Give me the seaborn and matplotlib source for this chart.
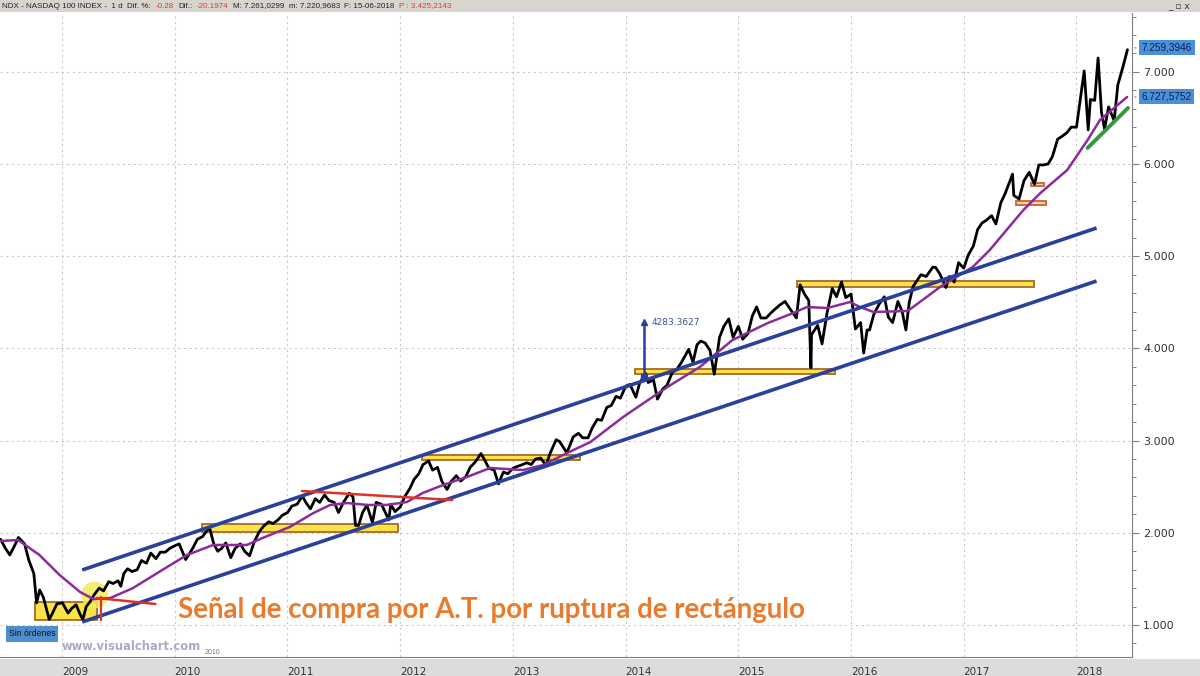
import numpy as np
import pandas as pd
import matplotlib
matplotlib.use("Agg")
import matplotlib.pyplot as plt
import seaborn as sns
from matplotlib.patches import Rectangle, Ellipse
from matplotlib.ticker import FuncFormatter, MultipleLocator

# ---------------- data ----------------
price_dates = [
 "2008-06-15","2008-07-01","2008-07-15","2008-08-01","2008-08-12","2008-09-01","2008-09-15","2008-10-01","2008-10-10","2008-10-20",
 "2008-11-01","2008-11-20","2008-12-01","2008-12-15","2009-01-02","2009-01-20","2009-02-01","2009-02-15","2009-03-01","2009-03-09",
 "2009-03-20","2009-04-01","2009-04-15","2009-05-01","2009-05-15","2009-06-01","2009-06-15","2009-07-01","2009-07-10","2009-07-20",
 "2009-08-01","2009-08-15","2009-09-01","2009-09-15","2009-10-01","2009-10-15","2009-11-01","2009-11-15","2009-12-01","2009-12-15",
 "2010-01-01","2010-01-15","2010-02-05","2010-02-15","2010-03-01","2010-03-15","2010-04-01","2010-04-23","2010-05-07","2010-05-20",
 "2010-06-01","2010-06-15","2010-07-01","2010-07-15","2010-08-01","2010-08-15","2010-08-31","2010-09-15","2010-10-01","2010-10-15",
 "2010-11-01","2010-11-15","2010-12-01","2010-12-15","2011-01-01","2011-01-15","2011-02-01","2011-02-18","2011-03-01","2011-03-16",
 "2011-04-01","2011-04-15","2011-05-01","2011-05-15","2011-06-01","2011-06-15","2011-07-01","2011-07-20","2011-08-01","2011-08-09",
 "2011-08-19","2011-09-01","2011-09-15","2011-10-03","2011-10-15","2011-11-01","2011-11-25","2011-12-01","2011-12-15","2012-01-01",
 "2012-01-15","2012-02-01","2012-02-15","2012-03-01","2012-03-15","2012-04-02","2012-04-15","2012-05-01","2012-05-15","2012-06-01",
 "2012-06-15","2012-07-01","2012-07-15","2012-08-01","2012-08-15","2012-09-01","2012-09-19","2012-10-01","2012-10-15","2012-11-01",
 "2012-11-15","2012-12-01","2012-12-15","2013-01-01","2013-01-15","2013-02-01","2013-02-15","2013-03-01","2013-03-15","2013-04-01",
 "2013-04-18","2013-05-01","2013-05-21","2013-06-01","2013-06-24","2013-07-01","2013-07-15","2013-08-01","2013-08-15","2013-09-01",
 "2013-09-15","2013-10-01","2013-10-15","2013-11-01","2013-11-15","2013-12-01","2013-12-15","2014-01-01","2014-01-15","2014-02-03",
 "2014-02-15","2014-03-06","2014-03-15","2014-04-01","2014-04-14","2014-05-01","2014-05-15","2014-06-01","2014-06-15","2014-07-01",
 "2014-07-24","2014-08-07","2014-08-20","2014-09-01","2014-09-15","2014-10-01","2014-10-15","2014-11-01","2014-11-15","2014-12-01",
 "2014-12-15","2015-01-01","2015-01-15","2015-02-01","2015-02-15","2015-03-01","2015-03-15","2015-04-01","2015-04-15","2015-05-01",
 "2015-05-15","2015-06-01","2015-06-15","2015-07-08","2015-07-20","2015-08-03","2015-08-17","2015-08-24","2015-08-26","2015-09-15",
 "2015-09-29","2015-10-15","2015-11-01","2015-11-15","2015-12-01","2015-12-15","2016-01-01","2016-01-15","2016-02-01","2016-02-11",
 "2016-02-22","2016-03-01","2016-03-15","2016-04-01","2016-04-18","2016-05-01","2016-05-15","2016-06-01","2016-06-15","2016-06-27",
 "2016-07-08","2016-07-20","2016-08-01","2016-08-15","2016-09-01","2016-09-22","2016-10-01","2016-10-15","2016-11-04","2016-11-15",
 "2016-12-01","2016-12-15","2017-01-01","2017-01-15","2017-02-01","2017-02-15","2017-03-01","2017-03-15","2017-04-01","2017-04-15",
 "2017-05-01","2017-05-15","2017-06-08","2017-06-12","2017-06-29","2017-07-15","2017-08-01","2017-08-18","2017-09-01","2017-09-15",
 "2017-10-01","2017-10-15","2017-11-01","2017-11-15","2017-12-01","2017-12-15","2018-01-01","2018-01-26","2018-02-08","2018-02-15",
 "2018-03-01","2018-03-12","2018-03-23","2018-04-02","2018-04-15","2018-05-03","2018-05-15","2018-06-01","2018-06-15",
]
price_values = [
 1930,1830,1760,1870,1950,1880,1700,1560,1240,1380,
 1300,1060,1130,1230,1240,1130,1180,1220,1110,1060,
 1200,1250,1330,1400,1370,1470,1450,1480,1420,1560,
 1610,1580,1600,1700,1670,1780,1720,1790,1790,1830,
 1860,1880,1710,1760,1840,1930,1960,2060,1880,1800,
 1830,1890,1730,1830,1880,1800,1750,1900,2010,2070,
 2120,2100,2140,2190,2220,2290,2310,2400,2330,2260,
 2370,2330,2410,2350,2330,2220,2330,2430,2390,2080,
 2080,2220,2300,2110,2330,2310,2140,2310,2230,2280,
 2390,2480,2580,2640,2740,2780,2680,2710,2560,2470,
 2560,2620,2560,2610,2710,2770,2860,2790,2700,2680,
 2530,2660,2640,2700,2720,2740,2760,2740,2800,2810,
 2730,2860,3010,2990,2870,2920,3040,3080,3030,3030,
 3140,3230,3220,3360,3380,3480,3460,3590,3610,3470,
 3620,3730,3630,3660,3450,3560,3600,3740,3770,3850,
 3990,3850,4040,4080,4060,3980,3720,4120,4240,4320,
 4120,4240,4100,4160,4350,4450,4330,4330,4380,4430,
 4470,4510,4440,4330,4690,4590,4520,3790,4150,4250,
 4050,4380,4650,4560,4720,4550,4590,4210,4280,3950,
 4200,4200,4370,4480,4560,4340,4280,4510,4400,4200,
 4500,4670,4730,4800,4780,4880,4880,4810,4660,4780,
 4720,4930,4870,5010,5110,5290,5360,5390,5440,5350,
 5580,5680,5890,5660,5620,5820,5910,5780,5990,5990,
 6000,6080,6270,6300,6340,6400,6400,7010,6370,6700,
 6690,7150,6560,6380,6620,6470,6860,7060,7240,
]

ma_dates = [
 "2008-06-14","2008-08-11","2008-10-19","2008-12-24","2009-02-28","2009-04-13","2009-06-06","2009-08-18","2009-12-05","2010-02-09",
 "2010-05-05","2010-08-22","2010-10-12","2011-01-08","2011-03-26","2011-05-19","2011-07-13","2011-09-17","2011-11-18","2012-01-23",
 "2012-03-14","2012-05-19","2012-08-04","2012-10-19","2013-02-03","2013-04-09","2013-06-25","2013-09-09","2013-12-24","2014-01-26",
 "2014-05-16","2014-08-29","2014-12-13","2015-04-06","2015-06-28","2015-08-11","2015-10-16","2015-12-28","2016-01-30","2016-03-14",
 "2016-07-01","2016-07-16","2016-10-16","2017-01-30","2017-03-26","2017-07-13","2017-09-06","2017-12-02","2018-02-06","2018-03-18",
 "2018-06-14",
]
ma_values = [
 1911,1922,1760,1542,1358,1280,1293,1400,1625,1759,
 1868,1868,1944,2063,2215,2302,2323,2302,2302,2334,
 2432,2518,2605,2703,2681,2735,2865,2985,3256,3332,
 3581,3798,4091,4275,4384,4449,4438,4503,4449,4395,
 4406,4438,4666,4883,5067,5501,5685,5935,6260,6477,
 6727,
]

# horizontal zones (start, end, low, high)
zone_start = ["2008-10-05", "2010-03-29", "2012-03-11", "2014-01-30", "2015-07-09"]
zone_end   = ["2009-04-23", "2011-12-24", "2013-08-07", "2015-11-10", "2017-08-18"]
zone_low   = [1054, 2009, 2790, 3722, 4666]
zone_high  = [1249, 2095, 2844, 3777, 4731]

small_start = ["2017-06-20", "2017-08-07"]
small_end   = ["2017-09-24", "2017-09-17"]
small_low   = [5555, 5761]
small_high  = [5599, 5794]

channel_dates = ["2009-03-07", "2018-03-07"]
channel_upper = [1597, 5306]
channel_lower = [1033, 4731]

red1_dates = ["2009-04-23", "2009-10-30"]
red1_values = [1293, 1228]
red1v_date = "2009-05-08"
red1v_values = [1304, 1054]
red2_dates = ["2011-02-17", "2012-06-18"]
red2_values = [2453, 2356]

green_dates = ["2018-02-06", "2018-06-17"]
green_values = [6174, 6608]

measure_date = "2014-03-03"
measure_values = [3690, 4283.3627]

circle_date = "2009-04-16"
circle_value = 1325

ytick_values = [1000, 2000, 3000, 4000, 5000, 6000, 7000]
year_ticks = list(range(2009, 2019))
last_price_label = "7.259,3946"
last_price = 7259.3946
last_ma_label = "6.727,5752"
last_ma = 6727.5752

header_parts = [
    ("NDX - NASDAQ 100 INDEX -  1 d", "#222222"),
    ("Dif. %:", "#222222"),
    ("-0.28", "#d04040"),
    ("Dif.:", "#222222"),
    ("-20.1974", "#d04040"),
    ("M: 7.261,0299", "#222222"),
    ("m: 7.220,9683", "#222222"),
    ("F: 15-06-2018", "#222222"),
    ("P : 3.425,2143", "#d04040"),
]


def dec_year(s):
    d = pd.to_datetime(pd.Series(s) if isinstance(s, list) else pd.Series([s]))
    days = np.where(d.dt.is_leap_year, 366.0, 365.0)
    out = d.dt.year + (d.dt.dayofyear - 0.5) / days
    return out.values if isinstance(s, list) else float(out.values[0])


price_df = pd.DataFrame({"t": dec_year(price_dates), "v": price_values})
ma_df = pd.DataFrame({"t": dec_year(ma_dates), "v": ma_values})

# ---------------- figure ----------------
sns.set_style("white")
plt.rcParams["font.family"] = ["DejaVu Sans"]
W, H = 1200, 676
fig = plt.figure(figsize=(12, 6.76), dpi=100)
fig.patch.set_facecolor("white")

ax_left, ax_right, ax_top, ax_bot = 0, 1132, 13, 657
ax = fig.add_axes([ax_left / W, (H - ax_bot) / H, (ax_right - ax_left) / W, (ax_bot - ax_top) / H])
ax.set_facecolor("white")

XMIN, XMAX = 2008.450, 2018.494
YMIN, YMAX = 653, 7638
ax.set_xlim(XMIN, XMAX)
ax.set_ylim(YMIN, YMAX)

# grid
for yv in ytick_values:
    ax.axhline(yv, color="#c9c9c9", lw=0.8, ls=(0, (2, 3)), zorder=0)
for xv in year_ticks:
    ax.axvline(xv, color="#c9c9c9", lw=0.8, ls=(0, (2, 3)), zorder=0)

# yellow zones
for s, e, lo, hi in zip(dec_year(zone_start), dec_year(zone_end), zone_low, zone_high):
    ax.add_patch(Rectangle((s, lo), e - s, hi - lo, facecolor="#f8e44a",
                           edgecolor="#a8682c", lw=1.3, zorder=2))
for s, e, lo, hi in zip(dec_year(small_start), dec_year(small_end), small_low, small_high):
    ax.add_patch(Rectangle((s, lo), e - s, hi - lo, facecolor="#f4d3b6",
                           edgecolor="#c8652c", lw=1.3, zorder=2))

# yellow circle
ax.add_patch(Ellipse((dec_year(circle_date), circle_value), 0.24, 290,
                     facecolor="#f2ec5a", edgecolor="none", alpha=0.85, zorder=2))

# price and moving average
sns.lineplot(data=price_df, x="t", y="v", ax=ax, color="black", lw=2.0,
             estimator=None, sort=False, zorder=3)
sns.lineplot(data=ma_df, x="t", y="v", ax=ax, color="#8b2c9a", lw=1.8,
             estimator=None, sort=False, zorder=4)

# channel lines
cd = dec_year(channel_dates)
ax.plot(cd, channel_upper, color="#2b3f9c", lw=2.6, solid_capstyle="butt", zorder=5)
ax.plot(cd, channel_lower, color="#2b3f9c", lw=2.6, solid_capstyle="butt", zorder=5)

# red lines
ax.plot(dec_year(red1_dates), red1_values, color="#e03028", lw=1.8, zorder=5)
rv = dec_year(red1v_date)
ax.plot([rv, rv], red1v_values, color="#e03028", lw=1.6, zorder=5)
ax.plot(dec_year(red2_dates), red2_values, color="#e03028", lw=1.8, zorder=5)

# green line
ax.plot(dec_year(green_dates), green_values, color="#2f9a3a", lw=2.8, zorder=5)

# measurement line
md = dec_year(measure_date)
ax.plot([md, md], measure_values, color="#2b3f9c", lw=1.8, zorder=6)
ax.plot([md], [measure_values[1]], marker="^", ms=5, color="#2b3f9c", zorder=6)
ax.plot([md], [measure_values[0]], marker="s", ms=4, color="#2b3f9c", zorder=6)
ax.text(md + 0.06, measure_values[1], f"{measure_values[1]:.4f}", color="#3a4fa0",
        fontsize=6.5, va="center", ha="left", zorder=6)

# axes styling
for sp in ["left", "top"]:
    ax.spines[sp].set_visible(False)
ax.spines["right"].set_color("#808080")
ax.spines["bottom"].set_color("#808080")
ax.yaxis.tick_right()
ax.set_yticks(ytick_values)
ax.yaxis.set_major_formatter(FuncFormatter(lambda v, p: f"{int(v):,}".replace(",", ".")))
ax.yaxis.set_minor_locator(MultipleLocator(200))
ax.tick_params(axis="y", which="major", length=5, width=0.8, color="#808080",
               labelsize=8, labelcolor="#333333", pad=3)
ax.tick_params(axis="y", which="minor", length=3, width=0.7, color="#808080")
ax.set_xticks(year_ticks)
ax.set_xticklabels([str(y) for y in year_ticks])
ax.tick_params(axis="x", which="major", length=6, width=0.8, color="#808080",
               labelsize=7.5, labelcolor="#333333", pad=1)
for lab in ax.get_xticklabels():
    lab.set_ha("left")
ax.set_xlabel("")
ax.set_ylabel("")

# right-side value labels
for val, txt in [(last_price, last_price_label), (last_ma, last_ma_label)]:
    ax.annotate(txt, xy=(1.0, val), xycoords=("axes fraction", "data"),
                xytext=(7, 0), textcoords="offset points", va="center", ha="left",
                fontsize=7.2, color="#10204a", family="Liberation Sans",
                bbox=dict(boxstyle="square,pad=0.25", fc="#4a90d8", ec="none"),
                annotation_clip=False)
    ax.annotate("", xy=(1.0, val), xycoords=("axes fraction", "data"),
                xytext=(5, 0), textcoords="offset points", annotation_clip=False,
                arrowprops=dict(arrowstyle="-", color="#808080", lw=0.8))

# ---------------- figure-level decorations ----------------
fig.add_artist(Rectangle((0, 1 - 12 / H), 1, 12 / H, transform=fig.transFigure,
                         facecolor="#d8d5cf", edgecolor="none", zorder=0))
fig.add_artist(Rectangle((0, 0), 1, (H - 659) / H, transform=fig.transFigure,
                         facecolor="#dcdcdc", edgecolor="none", zorder=0))

fig.canvas.draw()
renderer = fig.canvas.get_renderer()
hdr_y = 1 - 6 / H
xp = 2.0
for t, c in header_parts:
    ht = fig.text(xp / W, hdr_y, t, fontsize=5.8, color=c, va="center", ha="left",
                  family="Liberation Sans")
    xp += ht.get_window_extent(renderer).width + 4.5
fig.text(1190 / W, hdr_y, "_ \u25ab x", fontsize=6.5, color="#333333", va="center", ha="right")

# big orange annotation text
sig = fig.text(178 / W, 1 - 610 / H, "Señal de compra por A.T. por ruptura de rectángulo",
               fontsize=16, color="#e97b2c", fontweight="bold", family="Lato",
               va="center", ha="left")
w = sig.get_window_extent(renderer).width
sig.set_fontsize(16 * 630.0 / w)

# "Sin órdenes" box
fig.text(32 / W, 1 - 634 / H, "Sin órdenes", fontsize=6.2, color="#111111",
         va="center", ha="center", family="Liberation Sans",
         bbox=dict(boxstyle="square,pad=0.35", fc="#4f8fcf", ec="none"))

# watermark
fig.text(62 / W, 1 - 646 / H, "www.visualchart.com", fontsize=8.3, color="#a9a9c9",
         fontweight="bold", va="center", ha="left")
fig.text(205 / W, 1 - 653 / H, "2010", fontsize=5.0, color="#777777",
         va="center", ha="left", family="Liberation Sans")

fig.savefig("out.png", dpi=100, facecolor="white")
